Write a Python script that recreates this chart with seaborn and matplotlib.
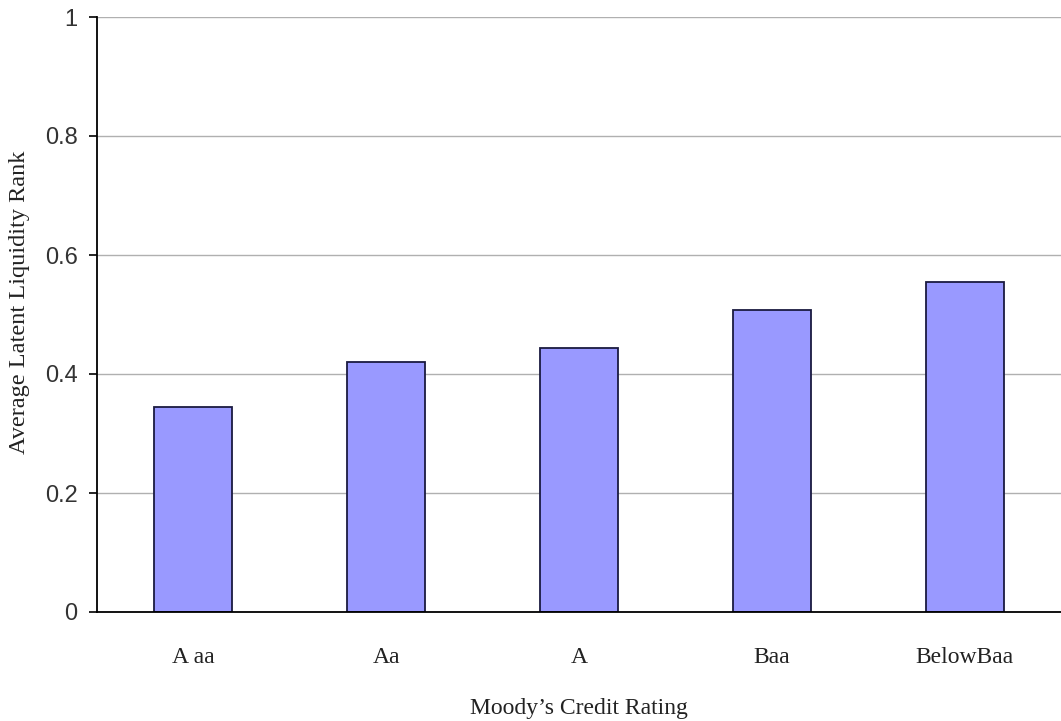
import numpy as np
import pandas as pd
import matplotlib
matplotlib.use("Agg")
import matplotlib.pyplot as plt
import seaborn as sns

ratings = ["A aa", "Aa", "A", "Baa", "BelowBaa"]
liquidity_rank = [0.344, 0.421, 0.443, 0.507, 0.555]

df = pd.DataFrame({"rating": ratings, "rank": liquidity_rank})

sns.set_style("white")
plt.rcParams["font.family"] = ["Liberation Sans", "DejaVu Sans"]

fig = plt.figure(figsize=(10.61, 7.21), dpi=100)
ax = fig.add_axes([97 / 1061, 109 / 721, 964 / 1061, 595 / 721])

sns.barplot(data=df, x="rating", y="rank", color="#9999ff", width=0.405,
            edgecolor="#1a1a40", linewidth=1.3, saturation=1, ax=ax)

ax.set_xlim(-0.5, 4.5)
ax.set_ylim(0, 1)
ax.set_yticks([0, 0.2, 0.4, 0.6, 0.8, 1.0])
ax.set_yticklabels(["0", "0.2", "0.4", "0.6", "0.8", "1"], fontsize=17, color="#333333")
ax.yaxis.grid(True, color="#b0b0b0", linewidth=1)
ax.set_axisbelow(True)

# category boundaries as ticks, labels centred on bars
ax.set_xticks(np.arange(-0.5, 5, 1.0), minor=True)
ax.tick_params(axis="x", which="minor", length=6, width=1.2, color="black", direction="out")
ax.tick_params(axis="x", which="major", length=0, pad=25)
ax.tick_params(axis="y", length=6, width=1.2, color="black", direction="out", left=True, pad=8)
for lbl in ax.get_xticklabels():
    lbl.set_family("Liberation Serif")
    lbl.set_fontsize(17)
    lbl.set_color("#222222")

for side in ["top", "right"]:
    ax.spines[side].set_visible(False)
ax.spines["left"].set_color("black")
ax.spines["left"].set_linewidth(1.3)
ax.spines["bottom"].set_color("black")
ax.spines["bottom"].set_linewidth(1.3)

ax.set_xlabel("Moody’s Credit Rating", family="Liberation Serif", fontsize=17,
              color="#222222", labelpad=22)
ax.set_ylabel("Average Latent Liquidity Rank", family="Liberation Serif", fontsize=17.5,
              color="#222222")
ax.yaxis.set_label_coords(-0.07, 0.52)

fig.savefig("out.png", dpi=100)
